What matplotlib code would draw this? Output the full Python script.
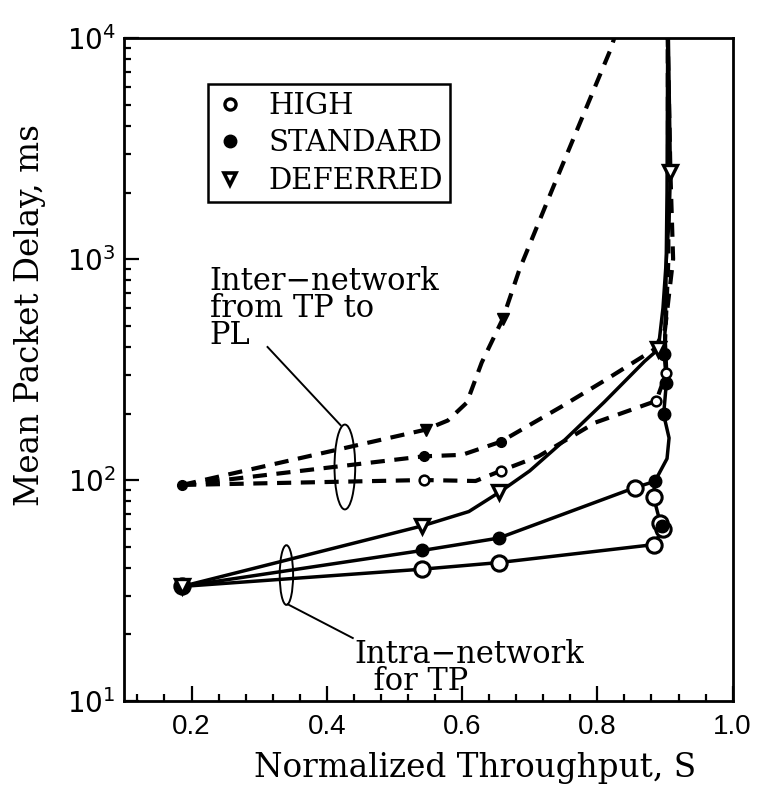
import numpy as np
import matplotlib
matplotlib.use("Agg")
import matplotlib.pyplot as plt
from matplotlib.lines import Line2D
from matplotlib.patches import Ellipse
from matplotlib.ticker import MultipleLocator, LogLocator, NullFormatter, FixedLocator

# ---- data ----
# intra-network for TP (solid)
intraHighX = [0.186, 0.541, 0.654, 0.883, 0.897, 0.893, 0.883, 0.885]
intraHighY = [33, 39.5, 42.3, 51, 60, 64, 84, 98.6]
intraStdX = [0.186, 0.541, 0.654, 0.856, 0.885, 0.903, 0.906, 0.898, 0.902, 0.899, 0.901, 0.903, 0.904]
intraStdY = [33, 48, 54.6, 92.5, 98.6, 125, 155, 198, 275, 370, 600, 2000, 10000]
intraDefX = [0.186, 0.541, 0.61, 0.655, 0.70, 0.75, 0.81, 0.87, 0.890, 0.897, 0.906, 0.908, 0.905]
intraDefY = [33, 62, 72, 88, 110, 150, 225, 345, 390, 600, 1500, 2470, 10000]

# inter-network from TP to PL (dashed)
interHighX = [0.186, 0.543, 0.62, 0.657, 0.713, 0.797, 0.887, 0.902, 0.900, 0.905, 0.904]
interHighY = [95, 100, 99, 110, 128, 182, 228, 306, 420, 1000, 10000]
interStdX = [0.186, 0.543, 0.60, 0.657, 0.747, 0.809, 0.884, 0.900, 0.912, 0.908, 0.904]
interStdY = [95, 128, 130, 149, 215, 280, 390, 480, 1000, 2470, 10000]
interDefX = [0.186, 0.546, 0.579, 0.607, 0.629, 0.660, 0.685, 0.734, 0.778, 0.819, 0.825]
interDefY = [95, 169, 186, 224, 340, 535, 900, 2090, 4400, 8800, 10000]

# marker points
openBigX = [0.186, 0.541, 0.654, 0.883, 0.897, 0.893, 0.883, 0.856]
openBigY = [33, 39.5, 42.3, 51, 60, 64, 84, 92.5]
filledBigX = [0.186, 0.541, 0.654, 0.885, 0.895, 0.898, 0.902, 0.899]
filledBigY = [33, 48, 54.6, 98.6, 62, 198, 275, 370]
triX = [0.186, 0.541, 0.655, 0.890, 0.908]
triY = [33, 62, 88, 390, 2470]
openSmallX = [0.543, 0.657, 0.887, 0.902]
openSmallY = [100, 110, 228, 306]
filledSmallX = [0.186, 0.543, 0.657]
filledSmallY = [95, 128, 149]
triSmallX = [0.546, 0.660]
triSmallY = [169, 535]

xticks = [0.2, 0.4, 0.6, 0.8, 1.0]
xticklabels = ["0.2", "0.4", "0.6", "0.8", "1.0"]
legendLabels = ["HIGH", "STANDARD", "DEFERRED"]

serif = "DejaVu Serif"
sans = "Liberation Sans"

fig = plt.figure(figsize=(7.6, 7.93), dpi=100)
ax = fig.add_axes([0.163, 0.116, 0.801, 0.836])

lwSolid = 2.5
lwDash = 3.0
for x, y in [(intraHighX, intraHighY), (intraStdX, intraStdY), (intraDefX, intraDefY)]:
    ax.plot(x, y, color="black", lw=lwSolid, solid_capstyle="round", zorder=3)
for x, y in [(interHighX, interHighY), (interStdX, interStdY), (interDefX, interDefY)]:
    ax.plot(x, y, color="black", lw=lwDash, dashes=(3.4, 2.3), zorder=3)

ax.plot(openBigX, openBigY, "o", ms=11, mfc="white", mec="black", mew=2.2, zorder=4)
ax.plot(filledBigX, filledBigY, "o", ms=9, mfc="black", mec="black", zorder=5)
ax.plot(triX, triY, "v", ms=9.5, mfc="white", mec="black", mew=2.4, zorder=5)
ax.plot(openSmallX, openSmallY, "o", ms=7, mfc="white", mec="black", mew=1.8, zorder=5)
ax.plot(filledSmallX, filledSmallY, "o", ms=7, mfc="black", mec="black", zorder=5)
ax.plot(triSmallX, triSmallY, "v", ms=9, mfc="black", mec="black", zorder=5)

ax.set_yscale("log")
ax.set_xlim(0.1, 1.0)
ax.set_ylim(10, 10000)

ax.xaxis.set_major_locator(FixedLocator(xticks))
ax.set_xticklabels(xticklabels)
ax.xaxis.set_minor_locator(MultipleLocator(0.04))
ax.yaxis.set_major_locator(LogLocator(base=10))
ax.yaxis.set_minor_locator(LogLocator(base=10, subs=np.arange(2, 10)))
ax.yaxis.set_minor_formatter(NullFormatter())

ax.tick_params(axis="both", which="both", direction="in", top=False, right=False, width=1.6)
ax.tick_params(axis="both", which="major", length=11, labelsize=20)
ax.tick_params(axis="x", which="major", pad=9)
ax.tick_params(axis="y", which="major", pad=6)
ax.tick_params(axis="both", which="minor", length=5)
for lab in ax.get_xticklabels():
    lab.set_family(sans)
for sp in ax.spines.values():
    sp.set_linewidth(2.0)

fig.text(0.625, 0.031, "Normalized Throughput, S", family=serif, fontsize=23.5,
         ha="center", va="center")
fig.text(0.04, 0.603, "Mean Packet Delay, ms", family=serif, fontsize=23.5,
         ha="center", va="center", rotation=90)

# annotations (positions in axes fraction)
txt = {"family": serif, "fontsize": 22, "va": "center", "ha": "left",
       "transform": ax.transAxes, "linespacing": 0.85}
ax.text(0.141, 0.592, "Inter\u2212network\nfrom TP to\nPL", **txt)
ax.add_patch(Ellipse((0.363, 0.353), 0.034, 0.128, transform=ax.transAxes, fill=False, lw=1.4, ec="black"))
ax.plot([0.236, 0.356], [0.534, 0.416], transform=ax.transAxes, color="black", lw=1.4)

ax.text(0.378, 0.050, "Intra\u2212network\n  for TP", **txt)
ax.add_patch(Ellipse((0.267, 0.19), 0.022, 0.09, transform=ax.transAxes, fill=False, lw=1.4, ec="black"))
ax.plot([0.269, 0.376], [0.146, 0.095], transform=ax.transAxes, color="black", lw=1.4)

handles = [
    Line2D([], [], ls="none", marker="o", ms=8, mfc="white", mec="black", mew=2.4),
    Line2D([], [], ls="none", marker="o", ms=9, mfc="black", mec="black"),
    Line2D([], [], ls="none", marker="v", ms=9, mfc="white", mec="black", mew=2.6),
]
leg = ax.legend(handles, legendLabels, loc="upper left", bbox_to_anchor=(0.139, 0.93),
                frameon=True, fancybox=False, edgecolor="black", framealpha=1,
                borderpad=0.25, handlelength=1.0, handletextpad=0.8, labelspacing=0.33,
                borderaxespad=0, prop={"family": serif, "size": 21})
leg.get_frame().set_linewidth(1.8)

fig.savefig("out.png", dpi=100)
